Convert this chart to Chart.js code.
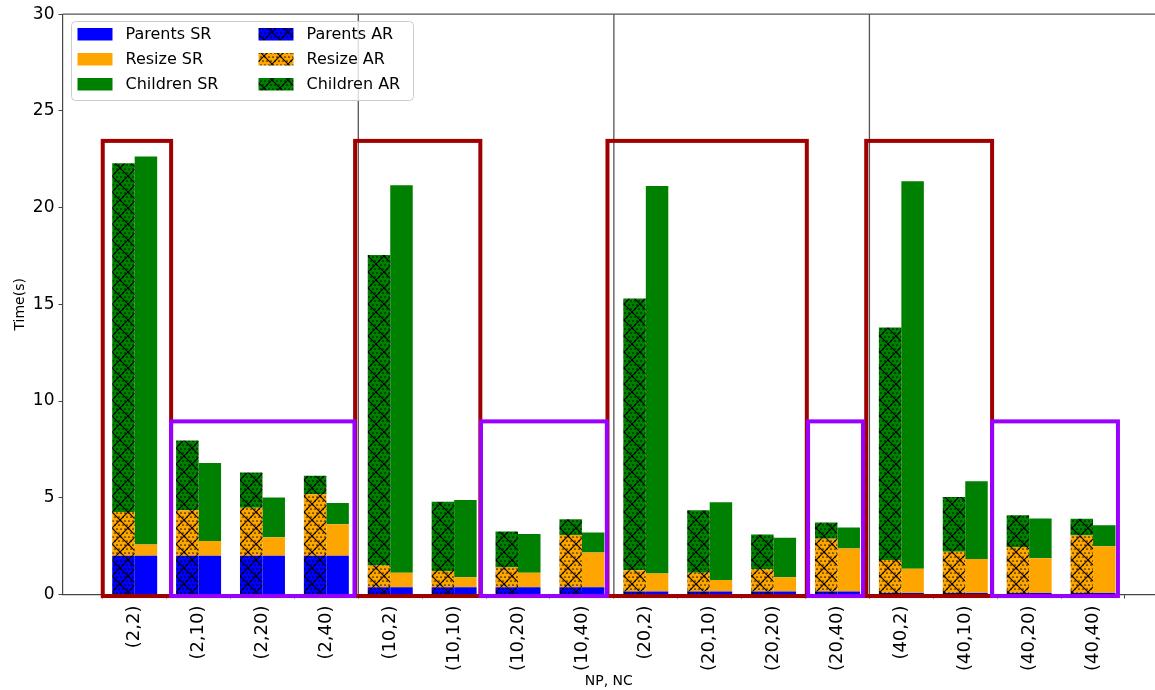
<!DOCTYPE html>
<html>
<head>
<meta charset="utf-8">
<script src="https://cdn.jsdelivr.net/npm/chart.js@4/dist/chart.umd.min.js"></script>
<style>
    body { margin: 0; background: #fff; }
    #wrap { width: 1155px; height: 690px; }
</style>
</head>
<body>
<div id="wrap"><canvas id="timeChart" width="1155" height="690"></canvas></div>
<script>
// (NP, NC) configurations
const categories = ['(2,2)', '(2,10)', '(2,20)', '(2,40)', '(10,2)', '(10,10)', '(10,20)', '(10,40)',
                    '(20,2)', '(20,10)', '(20,20)', '(20,40)', '(40,2)', '(40,10)', '(40,20)', '(40,40)'];

// time per phase (s), AR run
const parentsAR  = [2.0, 2.0, 2.0, 2.0, 0.38, 0.38, 0.38, 0.38, 0.15, 0.15, 0.15, 0.15, 0.08, 0.08, 0.08, 0.08];
const resizeAR   = [2.27, 2.36, 2.49, 3.18, 1.12, 0.83, 1.02, 2.69, 1.11, 0.97, 1.15, 2.73, 1.7, 2.13, 2.38, 2.97];
const childrenAR = [18.03, 3.6, 1.82, 0.96, 16.05, 3.59, 1.86, 0.82, 14.04, 3.24, 1.8, 0.84, 12.02, 2.83, 1.64, 0.86];

// time per phase (s), SR run
const parentsSR  = [2.0, 2.0, 2.0, 2.0, 0.38, 0.38, 0.38, 0.38, 0.15, 0.15, 0.15, 0.15, 0.08, 0.08, 0.08, 0.08];
const resizeSR   = [0.59, 0.76, 0.96, 1.63, 0.74, 0.51, 0.74, 1.79, 0.94, 0.6, 0.74, 2.23, 1.25, 1.75, 1.8, 2.42];
const childrenSR = [20.05, 4.04, 2.05, 1.1, 20.04, 4.0, 2.01, 1.03, 20.03, 4.02, 2.04, 1.08, 20.04, 4.02, 2.05, 1.08];

const yTicks = [0, 5, 10, 15, 20, 25, 30];

// group separators and highlight boxes, in axis units
const separators = [3.5, 7.5, 11.5];
const redBoxes = [[-0.5, 0.57], [3.45, 5.41], [7.40, 10.52], [11.45, 13.42]];
const purpleBoxes = [[0.57, 3.44], [5.42, 7.39], [10.54, 11.40], [13.42, 15.39]];
const redTop = 23.45;
const purpleTop = 8.95;
const boxBottom = -0.08;

const BLUE = '#0000ff', ORANGE = '#ffa500', GREEN = '#008000';

// 'x' hatch with small dots, like matplotlib's hatch='x..'
function hatch(color) {
    const s = 16;
    const c = document.createElement('canvas');
    c.width = c.height = s;
    const g = c.getContext('2d');
    g.fillStyle = color;
    g.fillRect(0, 0, s, s);
    g.fillStyle = 'rgba(0,0,0,0.85)';
    for (let r = 0; r < 4; r++) {
        for (let k = 0; k < 4; k++) {
            const x = k * 4 + (r % 2 ? 2 : 0) + 1;
            const y = r * 4 + 1;
            g.beginPath();
            g.arc(x, y, 0.85, 0, Math.PI * 2);
            g.fill();
        }
    }
    g.strokeStyle = '#000';
    g.lineWidth = 1.1;
    g.beginPath();
    // both diagonals, extended past the tile so the corners join up
    g.moveTo(-2, -2); g.lineTo(s + 2, s + 2);
    g.moveTo(s + 2, -2); g.lineTo(-2, s + 2);
    g.stroke();
    return g.createPattern(c, 'repeat');
}

const pts = arr => arr.map((v, i) => ({ x: i, y: v }));

function bar(label, values, fill, stack) {
    return {
        label: label,
        data: pts(values),
        backgroundColor: fill,
        borderWidth: 0,
        stack: stack,
        categoryPercentage: 0.704,
        barPercentage: 1.0
    };
}

const datasets = [
    bar('Parents AR', parentsAR, hatch(BLUE), 'AR'),
    bar('Resize AR', resizeAR, hatch(ORANGE), 'AR'),
    bar('Children AR', childrenAR, hatch(GREEN), 'AR'),
    bar('Parents SR', parentsSR, BLUE, 'SR'),
    bar('Resize SR', resizeSR, ORANGE, 'SR'),
    bar('Children SR', childrenSR, GREEN, 'SR')
];

// thin vertical lines between NP groups, plus the top spine
const separatorPlugin = {
    id: 'separators',
    beforeDatasetsDraw(chart) {
        const { ctx, chartArea, scales } = chart;
        ctx.save();
        ctx.strokeStyle = '#555';
        ctx.lineWidth = 1.3;
        ctx.beginPath();
        separators.forEach(v => {
            const x = scales.x.getPixelForValue(v);
            ctx.moveTo(x, chartArea.top);
            ctx.lineTo(x, chartArea.bottom);
        });
        ctx.moveTo(chartArea.left, chartArea.top);
        ctx.lineTo(chartArea.right, chartArea.top);
        ctx.stroke();
        ctx.restore();
    }
};

const boxPlugin = {
    id: 'boxes',
    afterDatasetsDraw(chart) {
        const { ctx, scales } = chart;
        const draw = (boxes, top, color) => {
            ctx.strokeStyle = color;
            boxes.forEach(([a, b]) => {
                const x0 = scales.x.getPixelForValue(a);
                const x1 = scales.x.getPixelForValue(b);
                const y0 = scales.y.getPixelForValue(top);
                const y1 = scales.y.getPixelForValue(boxBottom);
                ctx.strokeRect(x0, y0, x1 - x0, y1 - y0);
            });
        };
        ctx.save();
        ctx.lineWidth = 4;
        ctx.lineJoin = 'miter';
        draw(redBoxes, redTop, '#a00000');
        draw(purpleBoxes, purpleTop, '#9a00ff');
        ctx.restore();
    }
};

// two-column legend in the upper left corner
const legendPlugin = {
    id: 'boxLegend',
    afterDraw(chart) {
        const { ctx } = chart;
        const find = l => chart.data.datasets.find(d => d.label === l);
        const cols = [
            ['Parents SR', 'Resize SR', 'Children SR'],
            ['Parents AR', 'Resize AR', 'Children AR']
        ];
        const colX = [77.5, 258.5];
        ctx.save();
        ctx.beginPath();
        ctx.roundRect(71.5, 21.5, 342, 79, 4);
        ctx.fillStyle = 'rgba(255,255,255,0.8)';
        ctx.fill();
        ctx.strokeStyle = '#cccccc';
        ctx.lineWidth = 1;
        ctx.stroke();
        ctx.font = '16px "DejaVu Sans"';
        ctx.textBaseline = 'middle';
        cols.forEach((col, c) => {
            col.forEach((label, r) => {
                const y = 34.5 + r * 25;
                ctx.fillStyle = find(label).backgroundColor;
                ctx.fillRect(colX[c], y - 6.5, 35, 12.5);
                ctx.fillStyle = '#000';
                ctx.fillText(label, colX[c] + 48, y);
            });
        });
        ctx.restore();
    }
};

new Chart(document.getElementById('timeChart'), {
    type: 'bar',
    data: { datasets: datasets },
    plugins: [separatorPlugin, boxPlugin, legendPlugin],
    options: {
        responsive: false,
        animation: false,
        layout: { padding: { top: 12.5, right: 0, left: 0, bottom: 0 } },
        plugins: {
            legend: { display: false },
            tooltip: { enabled: false }
        },
        scales: {
            x: {
                type: 'linear',
                stacked: true,
                offset: false,
                min: -1.13,
                max: 15.97,
                afterFit: s => { s.height = 95.5; },
                afterBuildTicks: s => { s.ticks = categories.map((c, i) => ({ value: i })); },
                grid: { drawOnChartArea: false, drawTicks: true, tickLength: 4, color: '#444' },
                border: { display: true, color: '#444', width: 1.2 },
                ticks: {
                    autoSkip: false,
                    minRotation: 90,
                    maxRotation: 90,
                    padding: 7,
                    color: '#000',
                    font: { family: 'DejaVu Sans', size: 18 },
                    callback: v => categories[v] ?? ''
                },
                title: {
                    display: true,
                    text: 'NP, NC',
                    color: '#000',
                    font: { family: 'DejaVu Sans', size: 14 },
                    padding: { top: 0, bottom: 0 }
                }
            },
            y: {
                stacked: true,
                min: 0,
                max: 30,
                afterFit: s => { s.width = 62.5; },
                afterBuildTicks: s => { s.ticks = yTicks.map(v => ({ value: v })); },
                grid: { drawOnChartArea: false, drawTicks: true, tickLength: 4, color: '#444' },
                border: { display: true, color: '#444', width: 1.2 },
                ticks: {
                    padding: 4,
                    color: '#000',
                    font: { family: 'DejaVu Sans', size: 17 }
                },
                title: {
                    display: true,
                    text: 'Time(s)',
                    color: '#000',
                    font: { family: 'DejaVu Sans', size: 14 },
                    padding: { top: 11.6, bottom: 0 }
                }
            }
        }
    }
});
</script>
</body>
</html>
